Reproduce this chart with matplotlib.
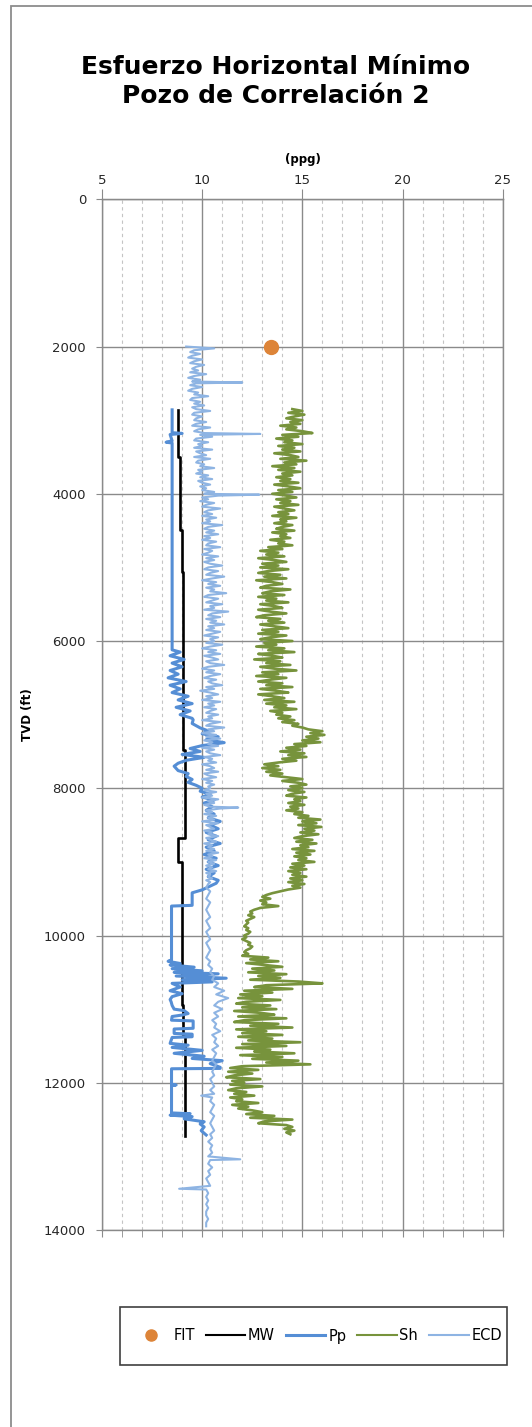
import numpy as np
import matplotlib
matplotlib.use("Agg")
import matplotlib.pyplot as plt
from matplotlib.ticker import MultipleLocator
from matplotlib.lines import Line2D
from matplotlib.patches import Rectangle

# ---- data (ppg vs TVD ft) ----
fit_depth = [2000]
fit_val = [13.45]

mw_depth = [2860, 3495, 4490, 5060, 7480, 8680, 9000, 10950, 11350, 12720]
mw_val = [8.77, 8.88, 8.97, 9.05, 9.13, 8.80, 8.97, 9.05, 9.13, 9.13]

pp_depth = [2860, 3170, 3180, 3195, 3280, 3300, 3310, 6120, 6150, 6200, 6250, 6300,
            6350, 6400, 6450, 6500, 6550, 6600, 6650, 6700, 6750, 6800, 6850, 6900,
            6950, 7000, 7050, 7070, 7120, 7180, 7220, 7260, 7300, 7340, 7380, 7420,
            7460, 7500, 7540, 7580, 7620, 7660, 7700, 7760, 7800, 7840, 7880, 7920,
            7960, 8000, 8040, 8080, 8120, 8160, 8200, 8250, 8300, 8350, 8400, 8450,
            8500, 8550, 8600, 8650, 8700, 8750, 8800, 8850, 8900, 8950, 9000, 9050,
            9100, 9150, 9200, 9250, 9290, 9380, 9420, 9590, 9600, 10330, 10350, 10380,
            10400, 10430, 10450, 10480, 10500, 10520, 10550, 10580, 10600, 10630, 10650,
            10700, 10750, 10790, 10830, 10870, 10900, 10950, 11000, 11020, 11060, 11080,
            11100, 11150, 11160, 11260, 11270, 11330, 11340, 11375, 11385, 11465, 11490,
            11520, 11560, 11600, 11640, 11670, 11700, 11740, 11790, 11805, 11810, 12020,
            12030, 12040, 12410, 12420, 12440, 12460, 12490, 12530, 12560, 12600, 12650,
            12710]
pp_val = [8.5, 8.5, 9.0, 8.4, 8.5, 8.2, 8.5, 8.5, 8.9, 8.4, 9.1, 8.5,
          9.0, 8.4, 8.8, 8.3, 9.2, 8.4, 8.9, 8.5, 9.3, 8.8, 9.5, 8.7,
          9.4, 8.9, 9.5, 9.55, 9.5, 9.9, 10.3, 10.0, 10.8, 10.2, 11.1, 10.0,
          9.4, 9.9, 9.0, 10.1, 9.2, 8.8, 8.6, 8.8, 9.3, 9.2, 9.5, 9.3,
          9.7, 10.0, 9.9, 10.4, 10.0, 10.6, 10.1, 10.5, 10.2, 10.6, 10.3, 10.9,
          10.4, 10.8, 10.2, 10.7, 10.3, 10.9, 10.2, 10.6, 10.1, 10.7, 10.3, 10.8,
          10.2, 10.6, 10.3, 10.8, 10.7, 10.0, 9.5, 9.5, 8.47, 8.47, 8.3, 8.9,
          8.4, 9.6, 8.5, 10.0, 8.6, 10.8, 8.7, 11.2, 9.0, 10.5, 8.5,
          8.9, 8.4, 9.0, 8.5, 8.4, 8.45, 8.5, 8.6, 9.1, 9.3, 9.0,
          8.5, 8.47, 9.55, 9.55, 8.6, 8.6, 9.5, 9.5, 8.5, 8.4, 9.3,
          8.5, 10.0, 8.6, 10.1, 9.5, 11.0, 10.4, 10.9, 10.9, 8.47, 8.47,
          8.7, 8.47, 8.47, 9.4, 8.4, 9.5, 9.1, 10.1, 9.9, 10.1, 9.95,
          10.2]

# Sh every 25 ft from 2850 to 12700
sh_depth = np.arange(2850, 12701, 25)
sh_val = [
    14.5, 15.0, 14.3, 15.1, 14.6, 14.2, 15.0, 14.4, 14.9, 13.9,
    14.7, 14.2, 15.0, 15.5, 14.0, 14.8, 13.7, 14.5, 14.1, 15.0,
    13.8, 14.6, 14.0, 14.9, 13.6, 14.4, 14.8, 13.9, 15.2, 14.1,
    14.7, 13.5, 14.6, 13.8, 14.9, 14.0, 14.5, 13.7, 14.4, 13.9,
    # 3850
    14.8, 13.6, 14.3, 14.9, 13.8, 14.5, 13.5, 14.2, 14.7, 13.7,
    14.4, 13.9, 14.8, 13.6, 14.1, 14.6, 13.8, 14.3, 13.5, 14.7,
    13.9, 14.2, 13.6, 14.5, 14.0, 13.7, 14.6, 13.5, 14.2, 13.9,
    14.4, 13.4, 14.1, 13.8, 14.5, 13.3, 14.0, 12.9, 13.8, 13.2,
    # 4850
    14.1, 12.8, 13.6, 14.2, 13.0, 13.8, 12.9, 14.3, 13.3, 12.8,
    13.9, 13.1, 14.2, 12.7, 13.5, 14.0, 13.2, 12.9, 14.4, 13.4,
    13.0, 14.1, 12.8, 13.7, 13.2, 14.3, 12.9, 13.6, 14.0, 12.8,
    13.4, 14.2, 13.1, 12.7, 13.9, 13.3, 14.1, 12.9, 13.6, 14.3,
    # 5850
    13.0, 13.8, 12.8, 14.2, 13.4, 12.9, 14.5, 13.1, 13.7, 12.7,
    14.1, 13.3, 14.6, 12.8, 13.5, 14.0, 12.6, 13.9, 13.2, 14.4,
    12.9, 13.6, 14.7, 13.0, 13.8, 12.7, 14.2, 13.4, 12.8, 14.0,
    13.2, 14.5, 12.9, 13.7, 14.3, 12.8, 13.5, 14.1, 13.1, 14.6,
    # 6850
    13.2, 14.2, 13.6, 14.7, 13.4, 14.0, 13.7, 14.4, 13.8, 14.6,
    14.0, 14.8, 14.5, 15.0, 15.3, 16.0, 15.4, 16.1, 15.2, 15.8,
    15.0, 15.9, 14.6, 15.2, 14.2, 14.9, 13.9, 15.1, 14.3, 15.2,
    14.0, 14.7, 13.8, 13.1, 13.8, 13.0, 13.9, 13.2, 14.0, 13.4,
    # 7850
    14.2, 15.0, 14.0, 14.8, 15.2, 14.4, 15.0, 14.3, 15.1, 14.5,
    14.2, 15.2, 14.6, 14.9, 14.3, 15.1, 14.4, 14.8, 14.2, 15.0,
    14.6, 15.3, 14.8, 15.9, 15.0, 15.7, 14.8, 15.95, 15.1, 15.6,
    14.9, 15.8, 15.0, 14.6, 15.5, 14.7, 15.7, 14.9, 15.3, 14.5,
    # 8850
    15.6, 14.7, 15.4, 14.6, 15.2, 14.8, 15.6, 14.5, 15.1, 14.4,
    15.2, 14.3, 14.9, 14.5, 15.2, 14.4, 15.0, 14.3, 15.1, 14.5,
    14.9, 14.3, 13.9, 13.5, 13.2, 13.0, 13.4, 12.9, 13.2, 13.0,
    13.8, 12.9, 12.6, 12.4, 12.5, 12.3, 12.6, 12.4, 12.2, 12.3,
    # 9850
    12.2, 12.1, 12.3, 12.2, 12.4, 12.3, 12.1, 12.2, 12.0, 12.2,
    12.4, 12.3, 12.5, 12.4, 12.2, 12.1, 12.3, 12.0, 13.3, 12.4,
    13.8, 12.2, 13.1, 14.0, 12.5, 13.6, 12.3, 14.2, 12.8, 13.9,
    12.4, 14.8, 16.0, 13.2, 12.6, 14.5, 12.1, 13.5, 11.9, 13.0,
    # 10850
    11.8, 13.9, 12.2, 11.7, 13.4, 12.0, 13.7, 11.6, 12.9, 13.6,
    11.8, 14.2, 12.1, 11.6, 13.8, 12.4, 14.5, 11.7, 13.2, 12.0,
    14.0, 11.8, 13.5, 12.3, 14.9, 12.0, 14.2, 11.7, 13.4, 12.6,
    14.6, 11.9, 14.0, 12.5, 14.8, 13.2, 15.4, 12.0, 11.4, 12.8,
    # 11850
    11.3, 12.5, 11.6, 11.2, 12.9, 11.5, 12.1, 11.4, 13.0, 11.7,
    11.3, 12.2, 11.6, 12.6, 11.4, 12.0, 11.7, 12.8, 11.5, 12.3,
    11.8, 12.5, 13.0, 12.2, 13.6, 12.4, 14.5, 13.1, 12.8, 14.2,
    14.5, 14.1, 14.6, 14.2, 14.4,
]

# ECD: 25 ft from 2000 to 9275, then 50 ft from 9300 to 13950, plus spikes
ecd_depth_a = np.arange(2000, 9276, 25)
ecd_val_a = [
    9.2, 10.6, 9.6, 9.4, 9.9, 9.5, 9.3, 10.0, 9.6, 9.4,
    10.1, 9.7, 9.5, 9.8, 9.4, 10.2, 9.6, 9.3, 9.9, 9.5,
    9.7, 9.4, 10.0, 9.5, 9.3, 9.8, 9.6, 10.3, 9.5, 9.4,
    9.9, 9.6, 10.1, 9.5, 9.7, 10.4, 9.6, 9.5, 10.0, 9.7,
    # 3000
    9.6, 10.2, 9.7, 9.5, 10.4, 9.8, 9.6, 10.1, 9.9, 10.5,
    9.7, 9.6, 10.3, 9.8, 10.0, 9.6, 10.5, 9.7, 9.9, 10.2,
    9.6, 10.4, 9.8, 9.7, 10.1, 9.9, 10.6, 9.8, 10.0, 9.7,
    10.3, 9.9, 10.5, 9.8, 10.0, 10.4, 9.9, 10.2, 10.0, 10.6,
    # 4000
    10.1, 10.8, 10.0, 10.3, 9.9, 10.6, 10.2, 10.0, 10.9, 10.3,
    10.1, 10.5, 10.0, 10.7, 10.2, 10.4, 10.0, 11.0, 10.3, 10.1,
    10.6, 10.2, 10.8, 10.1, 10.4, 10.0, 10.7, 10.3, 10.2, 10.9,
    10.1, 10.5, 10.3, 10.0, 10.8, 10.2, 10.6, 10.1, 10.4, 11.0,
    # 5000
    10.3, 10.1, 10.8, 10.4, 10.2, 11.1, 10.5, 10.0, 10.7, 10.3,
    10.9, 10.2, 10.6, 10.4, 11.2, 10.3, 10.1, 10.8, 10.5, 10.2,
    11.0, 10.4, 10.6, 10.1, 11.3, 10.5, 10.3, 10.9, 10.2, 10.7,
    10.4, 11.1, 10.3, 10.6, 10.2, 10.9, 10.5, 10.1, 10.8, 10.4,
    # 6000
    10.6, 10.2, 11.0, 10.4, 10.0, 10.7, 10.3, 10.9, 10.1, 10.5,
    10.8, 10.2, 10.4, 11.1, 10.3, 10.0, 10.6, 10.2, 10.9, 10.4,
    10.1, 10.7, 10.3, 10.5, 11.0, 10.2, 10.6, 9.9, 10.4, 10.8,
    10.2, 10.5, 10.0, 10.9, 10.3, 10.6, 10.1, 10.7, 10.4, 10.2,
    # 7000
    10.8, 10.3, 10.5, 10.0, 10.9, 10.4, 10.2, 11.1, 10.3, 10.6,
    10.0, 10.7, 10.2, 10.9, 10.1, 10.5, 10.3, 10.8, 10.0, 10.6,
    10.2, 10.4, 10.9, 10.1, 10.5, 10.3, 10.7, 10.0, 10.4, 10.6,
    10.2, 10.8, 10.1, 10.3, 10.7, 10.0, 10.5, 10.2, 10.6, 10.3,
    # 8000
    10.4, 10.1, 10.7, 10.2, 10.5, 10.0, 10.8, 10.3, 10.6, 10.1,
    10.4, 10.9, 10.2, 10.5, 10.1, 10.7, 10.3, 10.6, 10.0, 10.8,
    10.2, 10.4, 10.6, 10.1, 10.5, 10.3, 10.8, 10.2, 10.4, 10.7,
    10.1, 10.5, 10.3, 10.6, 10.2, 10.8, 10.3, 10.5, 10.1, 10.7,
    # 9000
    10.3, 10.6, 10.2, 10.5, 10.3, 10.7, 10.2, 10.4, 10.3, 10.5,
    10.2, 10.4,
]
ecd_depth_b = np.arange(9300, 13951, 50)
ecd_val_b = [
    10.3, 10.2, 10.4, 10.3, 10.2, 10.4, 10.3, 10.2, 10.3, 10.4, 10.2, 10.3, 10.4, 10.2,
    10.3, 10.4, 10.2, 10.3, 10.4, 10.3, 10.2, 10.4, 10.3, 10.5, 10.4, 10.6, 10.5, 10.8, 10.6, 11.1, 10.7, 11.3, 10.8, 10.6,
    11.0, 10.6, 10.8, 10.5, 10.7, 10.6, 10.9, 10.5, 10.7, 10.6, 10.8, 10.5, 10.7, 10.6, 10.5, 10.7, 10.6, 10.5, 10.6, 10.4,
    10.5, 10.6, 10.4, 10.6, 10.5, 10.4, 10.6, 10.5, 10.4, 10.6, 10.5, 10.4, 10.5, 10.6, 10.4, 10.5, 10.3, 10.5, 10.4, 10.5,
    10.3, 10.4, 10.3, 10.5, 10.3, 10.4, 10.2, 10.3, 10.4, 10.2, 10.3, 10.2, 10.3, 10.2, 10.3, 10.2, 10.2, 10.3, 10.2, 10.2,
]
ecd_spike_depth = [2488, 3187, 4012, 8262, 12175, 13040, 13440]
ecd_spike_val = [12.0, 12.9, 12.85, 11.8, 9.95, 11.9, 8.85]

d_all = np.concatenate([ecd_depth_a, ecd_depth_b, ecd_spike_depth])
v_all = np.concatenate([ecd_val_a, ecd_val_b, ecd_spike_val])
order = np.argsort(d_all)
ecd_d = d_all[order]
ecd_v = v_all[order]

# ---- figure ----
fig = plt.figure(figsize=(5.32, 14.27), dpi=100)
W, H = 532, 1427

# outer chart border (left/top visible)
fig.add_artist(Rectangle((11 / W, -0.01), 1.0, 1 - 6 / H + 0.01, transform=fig.transFigure,
                         fill=False, edgecolor='#8c8c8c', lw=1.3))

ax = fig.add_axes([102 / W, 1 - 1230 / H, 400.7 / W, 1030.7 / H])

grid_major = '#8a8a8a'
ax.set_xlim(5, 25)
ax.set_ylim(14000, 0)
ax.xaxis.set_major_locator(MultipleLocator(5))
ax.xaxis.set_minor_locator(MultipleLocator(1))
ax.yaxis.set_major_locator(MultipleLocator(2000))
ax.grid(which='major', axis='both', color=grid_major, lw=1.0, ls='-')
ax.grid(which='minor', axis='x', color='#c4c4c4', lw=0.8, ls=(0, (3, 3)))
ax.set_axisbelow(True)
for s in ax.spines.values():
    s.set_color(grid_major)
    s.set_linewidth(1.0)

ax.tick_params(axis='x', which='both', bottom=True, top=False, labelbottom=False,
               direction='out', length=5, color=grid_major)
ax.tick_params(axis='y', which='major', left=True, right=False, direction='out',
               length=4.5, color=grid_major, labelsize=9.5, labelcolor='#262626', pad=7)

top = ax.secondary_xaxis('top')
top.set_xticks([5, 10, 15, 20, 25])
top.tick_params(direction='out', length=7, color=grid_major, labelsize=9.5,
                labelcolor='#262626', pad=2)
top.spines['top'].set_color(grid_major)

c_fit = '#DD8438'
c_mw = '#000000'
c_pp = '#558ED5'
c_sh = '#77933C'
c_ecd = '#8EB4E3'

ax.plot(mw_val, mw_depth, color=c_mw, lw=1.9, drawstyle='steps-pre', zorder=3)
ax.plot(pp_val, pp_depth, color=c_pp, lw=2.2, zorder=3)
ax.plot(sh_val, sh_depth, color=c_sh, lw=1.9, zorder=3)
ax.plot(ecd_v, ecd_d, color=c_ecd, lw=1.5, zorder=4)
ax.plot(fit_val, fit_depth, 'o', color=c_fit, ms=10, zorder=5)

# titles / labels
fig.text(276 / W, 1 - 67 / H, 'Esfuerzo Horizontal Mínimo', ha='center', va='center',
         fontsize=18, fontweight='bold')
fig.text(276 / W, 1 - 96 / H, 'Pozo de Correlación 2', ha='center', va='center',
         fontsize=18, fontweight='bold')
fig.text(302.5 / W, 1 - 159 / H, '(ppg)', ha='center', va='center', fontsize=8.5,
         fontweight='bold')
fig.text(27 / W, 1 - 715 / H, 'TVD (ft)', ha='center', va='center', rotation=90,
         fontsize=8.5, fontweight='bold')

# legend box
fig.add_artist(Rectangle((120 / W, 1 - 1365 / H), 387 / W, 58 / H, transform=fig.transFigure,
                         fill=False, edgecolor='#404040', lw=1.2))
handles = [Line2D([], [], ls='none', marker='o', color=c_fit, ms=8),
           Line2D([], [], color=c_mw, lw=1.5),
           Line2D([], [], color=c_pp, lw=2.2),
           Line2D([], [], color=c_sh, lw=1.5),
           Line2D([], [], color=c_ecd, lw=1.5)]
fig.legend(handles, ['FIT', 'MW', 'Pp', 'Sh', 'ECD'], loc='center',
           bbox_to_anchor=(316.5 / W, 1 - 1336 / H), ncol=5, frameon=False,
           fontsize=10.5, handlelength=2.7, handletextpad=0.2, columnspacing=0.75)

fig.savefig('out.png', dpi=100)
